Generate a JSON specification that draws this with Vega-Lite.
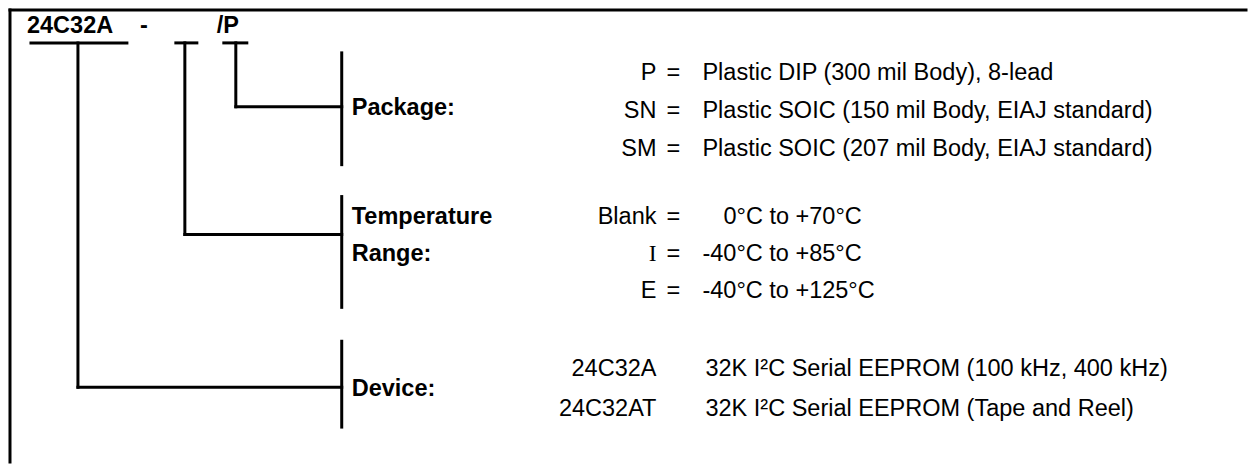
{
  "$schema": "https://vega.github.io/schema/vega-lite/v6.json",
  "width": 1249,
  "height": 465,
  "autosize": {"type": "fit", "contains": "padding"},
  "padding": 0,
  "background": "white",
  "config": {"view": {"stroke": null}},
  "datasets": {
    "lines": [
      {"x": 10, "y": 10, "x2": 1247, "y2": 10},
      {"x": 10, "y": 10, "x2": 10, "y2": 463},
      {"x": 31, "y": 43, "x2": 127, "y2": 43},
      {"x": 176, "y": 43, "x2": 197, "y2": 43},
      {"x": 224, "y": 43, "x2": 247, "y2": 43},
      {"x": 78, "y": 43, "x2": 78, "y2": 388},
      {"x": 185, "y": 43, "x2": 185, "y2": 235},
      {"x": 236, "y": 43, "x2": 236, "y2": 107},
      {"x": 236, "y": 107, "x2": 342, "y2": 107},
      {"x": 185, "y": 235, "x2": 342, "y2": 235},
      {"x": 78, "y": 388, "x2": 342, "y2": 388},
      {"x": 342, "y": 53, "x2": 342, "y2": 165},
      {"x": 342, "y": 197, "x2": 342, "y2": 308},
      {"x": 342, "y": 342, "x2": 342, "y2": 428}
    ],
    "texts": [
      {"x": 27, "y": 33, "text": "24C32A", "role": "bold"},
      {"x": 140, "y": 33, "text": "-", "role": "bold"},
      {"x": 217, "y": 33, "text": "/P", "role": "bold"},
      {"x": 352, "y": 115, "text": "Package:", "role": "bold"},
      {"x": 352, "y": 224, "text": "Temperature", "role": "bold"},
      {"x": 352, "y": 262, "text": "Range:", "role": "bold"},
      {"x": 352, "y": 397, "text": "Device:", "role": "bold"},
      {"x": 657, "y": 80, "text": "P", "role": "code"},
      {"x": 657, "y": 118, "text": "SN", "role": "code"},
      {"x": 657, "y": 156, "text": "SM", "role": "code"},
      {"x": 657, "y": 224, "text": "Blank", "role": "code"},
      {"x": 657, "y": 262, "text": "I", "role": "serif"},
      {"x": 657, "y": 299, "text": "E", "role": "code"},
      {"x": 657, "y": 377, "text": "24C32A", "role": "code"},
      {"x": 657, "y": 417, "text": "24C32AT", "role": "code"},
      {"x": 667, "y": 80, "text": "=", "role": "value"},
      {"x": 667, "y": 118, "text": "=", "role": "value"},
      {"x": 667, "y": 156, "text": "=", "role": "value"},
      {"x": 667, "y": 224, "text": "=", "role": "value"},
      {"x": 667, "y": 262, "text": "=", "role": "value"},
      {"x": 667, "y": 299, "text": "=", "role": "value"},
      {"x": 703, "y": 80, "text": "Plastic DIP (300 mil Body), 8-lead", "role": "value"},
      {"x": 703, "y": 118, "text": "Plastic SOIC (150 mil Body, EIAJ standard)", "role": "value"},
      {"x": 703, "y": 156, "text": "Plastic SOIC (207 mil Body, EIAJ standard)", "role": "value"},
      {"x": 724, "y": 224, "text": "0°C to +70°C", "role": "value"},
      {"x": 703, "y": 262, "text": "-40°C to +85°C", "role": "value"},
      {"x": 703, "y": 299, "text": "-40°C to +125°C", "role": "value"},
      {"x": 706, "y": 377, "text": "32K I²C Serial EEPROM (100 kHz, 400 kHz)", "role": "value"},
      {"x": 706, "y": 417, "text": "32K I²C Serial EEPROM (Tape and Reel)", "role": "value"}
    ]
  },
  "encoding": {
    "x": {"field": "x", "type": "quantitative", "scale": {"domain": [0, 1249], "nice": false, "zero": false}, "axis": null},
    "y": {"field": "y", "type": "quantitative", "scale": {"domain": [0, 465], "nice": false, "zero": false, "reverse": true}, "axis": null}
  },
  "layer": [
    {
      "data": {"name": "lines"},
      "mark": {"type": "rule", "color": "black", "strokeWidth": 3, "strokeCap": "square"},
      "encoding": {
        "x2": {"field": "x2"},
        "y2": {"field": "y2"}
      }
    },
    {
      "data": {"name": "texts"},
      "transform": [{"filter": "datum.role === 'bold'"}],
      "mark": {"type": "text", "align": "left", "baseline": "alphabetic", "font": "Liberation Sans", "fontWeight": "bold", "fontSize": 23.5, "color": "black"},
      "encoding": {"text": {"field": "text"}}
    },
    {
      "data": {"name": "texts"},
      "transform": [{"filter": "datum.role === 'code'"}],
      "mark": {"type": "text", "align": "right", "baseline": "alphabetic", "font": "Liberation Sans", "fontSize": 23.5, "color": "black"},
      "encoding": {"text": {"field": "text"}}
    },
    {
      "data": {"name": "texts"},
      "transform": [{"filter": "datum.role === 'serif'"}],
      "mark": {"type": "text", "align": "right", "baseline": "alphabetic", "font": "Liberation Serif", "fontSize": 23.5, "color": "black"},
      "encoding": {"text": {"field": "text"}}
    },
    {
      "data": {"name": "texts"},
      "transform": [{"filter": "datum.role === 'value'"}],
      "mark": {"type": "text", "align": "left", "baseline": "alphabetic", "font": "Liberation Sans", "fontWeight": "normal", "fontSize": 23.5, "color": "black"},
      "encoding": {"text": {"field": "text"}}
    }
  ]
}
